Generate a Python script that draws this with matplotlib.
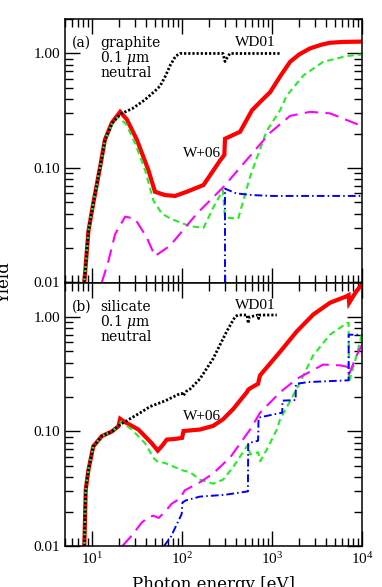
import matplotlib
matplotlib.use('Agg')
import matplotlib.pyplot as plt
from matplotlib.ticker import LogLocator, FixedLocator, FuncFormatter, NullFormatter

plt.rcParams['font.family'] = ['Liberation Serif', 'DejaVu Serif']
plt.rcParams['mathtext.fontset'] = 'dejavuserif'

# ---- panel (a): graphite ----
red_a_E = [8.2, 9.1, 10.3, 12.3, 13.9, 16.6, 20.5, 24.3, 31.4, 42.2, 50, 64.7, 83.6, 113, 173,
           264, 295, 300, 441, 600, 795, 950, 1230, 1585, 2000, 2640, 3500, 4400, 6000, 10000]
red_a_y = [0.01, 0.028, 0.049, 0.103, 0.177, 0.249, 0.309, 0.266, 0.177, 0.096, 0.062, 0.058, 0.057,
           0.062, 0.071, 0.116, 0.13, 0.18, 0.207, 0.32, 0.40, 0.458, 0.63, 0.845, 0.98, 1.107, 1.19,
           1.24, 1.26, 1.27]

green_a_E = [8.2, 9.1, 10.3, 12.3, 13.9, 16.6, 19.5, 24, 30, 38.8, 48, 59.5, 75, 123, 173, 222, 284,
             300, 420, 570, 870, 1230, 1460, 2230, 3700, 6800, 10000]
green_a_y = [0.01, 0.028, 0.049, 0.103, 0.175, 0.24, 0.28, 0.24, 0.165, 0.096, 0.052, 0.040, 0.036,
             0.031, 0.030, 0.045, 0.064, 0.037, 0.036, 0.084, 0.21, 0.32, 0.43, 0.643, 0.845, 0.95, 0.98]

mag_a_E = [12.8, 15, 18, 23.3, 30, 40.5, 50, 73.6, 145, 287, 524, 950, 1585, 2640, 4400, 10000]
mag_a_y = [0.01, 0.0148, 0.0264, 0.0376, 0.036, 0.0247, 0.017, 0.021, 0.0397, 0.068, 0.118, 0.203,
           0.285, 0.309, 0.30, 0.232]

blue_a_E = [300, 300, 400, 600, 1000, 10000]
blue_a_y = [0.01, 0.066, 0.060, 0.058, 0.057, 0.057]

wd_a_E = [8.2, 9.1, 10.3, 12.3, 13.9, 16.6, 20.5, 28, 38, 50, 57, 65, 74, 85, 95, 150, 285, 300,
          320, 340, 600, 1230]
wd_a_y = [0.01, 0.028, 0.049, 0.103, 0.175, 0.245, 0.295, 0.33, 0.39, 0.47, 0.52, 0.63, 0.79, 0.95,
          1.0, 1.0, 1.0, 0.85, 0.93, 1.0, 1.0, 1.0]

# ---- panel (b): silicate ----
red_b_E = [8.2, 8.5, 9.1, 10.3, 12.8, 16.6, 19.6, 20.5, 22.3, 32.7, 46, 53.7, 60, 67.6, 83.6, 100,
           104, 158, 222, 286, 370, 524, 545, 570, 700, 720, 738, 1230, 1880, 2870, 4400, 6800,
           7100, 7200, 8700, 10000]
red_b_y = [0.01, 0.031, 0.046, 0.074, 0.091, 0.100, 0.111, 0.129, 0.123, 0.104, 0.079, 0.068, 0.075,
           0.085, 0.086, 0.088, 0.101, 0.104, 0.112, 0.128, 0.157, 0.220, 0.232, 0.238, 0.261, 0.29,
           0.31, 0.497, 0.747, 1.05, 1.33, 1.52, 1.55, 1.33, 1.69, 1.93]

green_b_E = [8.2, 8.5, 9.1, 10.3, 12.8, 16.6, 19.6, 21, 27.6, 38.8, 48, 52.4, 64.7, 99, 123, 158,
             222, 286, 370, 524, 545, 570, 670, 700, 738, 870, 1130, 1230, 1880, 2870, 4400, 6800,
             7100, 7150, 8700, 10000]
green_b_y = [0.01, 0.031, 0.046, 0.074, 0.091, 0.100, 0.111, 0.122, 0.104, 0.079, 0.059, 0.055,
             0.053, 0.046, 0.044, 0.038, 0.035, 0.038, 0.049, 0.074, 0.076, 0.063, 0.065, 0.066,
             0.055, 0.069, 0.104, 0.128, 0.235, 0.463, 0.70, 0.885, 0.89, 0.27, 0.46, 0.72]

mag_b_E = [21.7, 28, 35.6, 42, 48, 55, 65, 76.6, 95, 107, 158, 222, 346, 570, 738, 1230, 1880, 3700,
           5700, 7000, 7100, 8700, 10000]
mag_b_y = [0.01, 0.0125, 0.0160, 0.0178, 0.0184, 0.0176, 0.020, 0.0234, 0.026, 0.0306, 0.036, 0.043,
           0.060, 0.104, 0.146, 0.22, 0.288, 0.384, 0.378, 0.366, 0.31, 0.46, 0.57]

blue_b_E = [63, 75, 84, 99, 101, 110, 158, 300, 540, 543, 700, 708, 1000, 1300, 1305, 1830, 1839,
            2500, 7100, 7112, 10000]
blue_b_y = [0.01, 0.012, 0.0145, 0.019, 0.024, 0.025, 0.027, 0.028, 0.030, 0.079, 0.083, 0.132,
            0.140, 0.146, 0.186, 0.188, 0.26, 0.27, 0.28, 0.70, 0.70]

wd_b_E = [8.2, 8.5, 9.1, 10.3, 12.8, 16.6, 20.5, 34, 44, 64.7, 90, 100, 103, 112, 123, 158, 222,
          313, 390, 420, 530, 543, 560, 700, 710, 730, 1130]
wd_b_y = [0.01, 0.031, 0.046, 0.074, 0.091, 0.100, 0.115, 0.145, 0.165, 0.185, 0.21, 0.215, 0.205,
          0.225, 0.235, 0.288, 0.434, 0.747, 1.01, 1.04, 1.04, 0.88, 1.0, 1.04, 0.97, 1.04, 1.04]

y_ticks = [0.01, 0.1, 1.0]
y_ticklabels = ['0.01', '0.10', '1.00']

panels = [
    dict(tag='(a)', name='graphite',
         red=(red_a_E, red_a_y), green=(green_a_E, green_a_y), mag=(mag_a_E, mag_a_y),
         blue=(blue_a_E, blue_a_y), wd=(wd_a_E, wd_a_y)),
    dict(tag='(b)', name='silicate',
         red=(red_b_E, red_b_y), green=(green_b_E, green_b_y), mag=(mag_b_E, mag_b_y),
         blue=(blue_b_E, blue_b_y), wd=(wd_b_E, wd_b_y)),
]

fig = plt.figure(figsize=(3.82, 5.87), dpi=100)
L, W, H = 65 / 382, 297 / 382, 263.5 / 587
ax_a = fig.add_axes([L, 1 - 282.5 / 587, W, H])
ax_b = fig.add_axes([L, 1 - 546 / 587, W, H])

txtfont = 'DejaVu Serif'

for ax, p in zip([ax_a, ax_b], panels):
    ax.plot(*p['red'], color='#ff0000', lw=3.0, solid_joinstyle='miter')
    ax.plot(*p['green'], color='#22ee22', lw=1.5, dashes=(3, 2))
    ax.plot(*p['mag'], color='#ff00ff', lw=1.5, dashes=(6.5, 3.5))
    ax.plot(*p['blue'], color='#0000ff', lw=1.4, dashes=(4, 1.6, 0.8, 1.6))
    ax.plot(*p['wd'], color='black', lw=2.0, dashes=(0.8, 0.7))

    ax.set_xscale('log')
    ax.set_yscale('log')
    ax.set_xlim(5, 1e4)
    ax.set_ylim(0.01, 2.0)

    ax.yaxis.set_major_locator(FixedLocator(y_ticks))
    ax.yaxis.set_major_formatter(FuncFormatter(
        lambda v, pos: y_ticklabels[y_ticks.index(min(y_ticks, key=lambda t: abs(t - v)))]))
    ax.yaxis.set_minor_locator(LogLocator(base=10, subs=range(2, 10), numticks=20))
    ax.yaxis.set_minor_formatter(NullFormatter())
    ax.xaxis.set_major_locator(LogLocator(base=10, numticks=10))
    ax.xaxis.set_minor_locator(LogLocator(base=10, subs=range(2, 10), numticks=20))
    ax.xaxis.set_minor_formatter(NullFormatter())

    ax.tick_params(which='both', direction='in', top=True, right=True, labelsize=11)
    ax.tick_params(which='major', length=10.5, width=1.0)
    ax.tick_params(which='minor', length=5.5, width=1.0)
    for s in ax.spines.values():
        s.set_linewidth(1.1)

    # panel caption: tag on the first line, material / size / charge stacked beside it
    ax.text(0.024, 0.935, p['tag'], transform=ax.transAxes, family=txtfont, fontsize=10,
            ha='left', va='top')
    ax.text(0.118, 0.935, p['name'] + '\n' + r'0.1 $\mu$m' + '\nneutral', transform=ax.transAxes,
            family=txtfont, fontsize=10, ha='left', va='top', linespacing=0.93)

    ax.text(650, 1.25, 'WD01', fontsize=11, ha='center', va='center')
    ax.text(167, 0.135, 'W+06', fontsize=11, ha='center', va='center')

ax_a.tick_params(labelbottom=False)

fig.text(0.013, 0.518, 'Yield', rotation=90, family=txtfont, fontsize=12, ha='center', va='center')
fig.text(0.558, -0.004, 'Photon energy [eV]', family=txtfont, fontsize=12, ha='center', va='baseline')

fig.savefig('out.png', dpi=100)
